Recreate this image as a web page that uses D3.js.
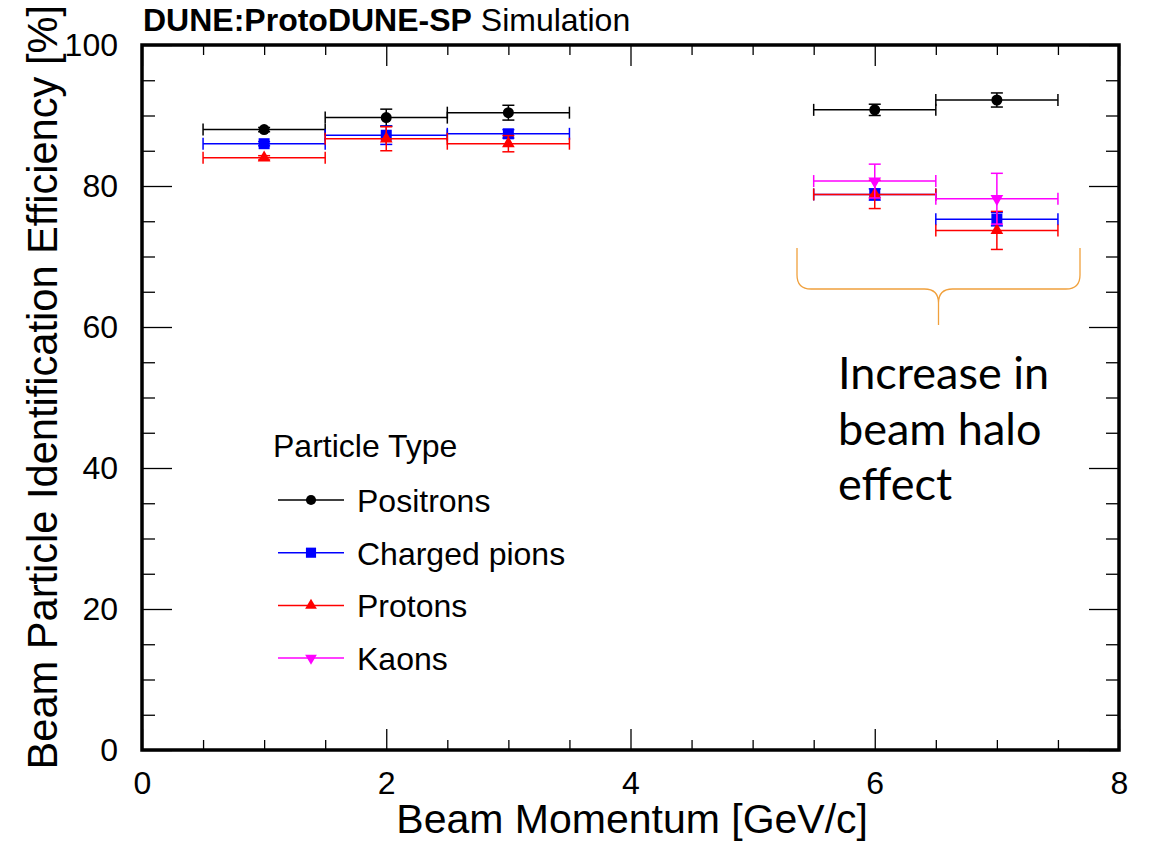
<!DOCTYPE html>
<html>
<head>
<meta charset="utf-8">
<script src="https://cdn.jsdelivr.net/npm/d3@7"></script>
<style>
  html, body { margin: 0; padding: 0; background: #fff; }
  svg { display: block; }
  text { font-family: "Liberation Sans", Arial, sans-serif; fill: #000; }
</style>
</head>
<body>
<svg id="chart" width="1156" height="842"></svg>
<script>
// Beam momentum points [GeV/c] and half bin width
const momenta = [1, 2, 3, 6, 7];
const kaonMomenta = [6, 7];
const binHalfWidth = 0.5;

// Identification efficiency [%] and statistical uncertainty per particle type
const positronEff = [88.0, 89.7, 90.4, 90.8, 92.2];
const positronErr = [0.3, 1.2, 1.05, 0.8, 1.0];
const pionEff = [86.0, 87.2, 87.4, 78.8, 75.3];
const pionErr = [0.3, 1.3, 0.6, 0.8, 0.95];
const protonEff = [84.0, 86.7, 86.0, 78.8, 73.7];
const protonErr = [0.3, 1.7, 1.15, 2.0, 2.7];
const kaonEff = [80.7, 78.2];
const kaonErr = [2.4, 3.6];

// Axis ticks
const xTicks = [0, 2, 4, 6, 8];
const xMinorTicks = [0.5, 1, 1.5, 2.5, 3, 3.5, 4.5, 5, 5.5, 6.5, 7, 7.5];
const yTicks = [0, 20, 40, 60, 80, 100];
const yMinorTicks = [5, 10, 15, 25, 30, 35, 45, 50, 55, 65, 70, 75, 85, 90, 95];

const legendTitle = "Particle Type";
const annotationLines = ["Increase in", "beam halo", "effect"];

const series = [
  { name: "Positrons", color: "#000000", symbol: d3.symbolCircle, size: 95, rot: 0, x: momenta, y: positronEff, e: positronErr },
  { name: "Charged pions", color: "#0000ff", symbol: d3.symbolSquare, size: 121, rot: 0, x: momenta, y: pionEff, e: pionErr },
  { name: "Protons", color: "#ff0000", symbol: d3.symbolTriangle, size: 70, rot: 0, x: momenta, y: protonEff, e: protonErr },
  { name: "Kaons", color: "#ff00ff", symbol: d3.symbolTriangle, size: 70, rot: 180, x: kaonMomenta, y: kaonEff, e: kaonErr }
];

const svg = d3.select("#chart");
const plotL = 142, plotR = 1119, plotT = 45, plotB = 750;
const x = d3.scaleLinear().domain([0, 8]).range([plotL, plotR]);
const y = d3.scaleLinear().domain([0, 100]).range([plotB, plotT]);

// ---- axes (ticks on all four sides, pointing inward) ----
function styleAxis(g) {
  g.select(".domain").remove();
  g.selectAll("line").attr("stroke", "#000").attr("stroke-width", 1.3);
  g.selectAll("text").style("font-size", "32px").attr("font-family", "Liberation Sans, Arial, sans-serif");
}
svg.append("g").attr("transform", `translate(0,${plotB})`)
  .call(d3.axisBottom(x).tickValues(xTicks).tickSize(-21).tickPadding(21).tickFormat(d3.format("d")))
  .call(styleAxis);
svg.append("g").attr("transform", `translate(0,${plotB})`)
  .call(d3.axisBottom(x).tickValues(xMinorTicks).tickSize(-10).tickFormat(""))
  .call(styleAxis);
svg.append("g").attr("transform", `translate(0,${plotT})`)
  .call(d3.axisTop(x).tickValues(xTicks).tickSize(-21).tickFormat(""))
  .call(styleAxis);
svg.append("g").attr("transform", `translate(0,${plotT})`)
  .call(d3.axisTop(x).tickValues(xMinorTicks).tickSize(-10).tickFormat(""))
  .call(styleAxis);
svg.append("g").attr("transform", `translate(${plotL},0)`)
  .call(d3.axisLeft(y).tickValues(yTicks).tickSize(-30).tickPadding(24).tickFormat(d3.format("d")))
  .call(styleAxis);
svg.append("g").attr("transform", `translate(${plotL},0)`)
  .call(d3.axisLeft(y).tickValues(yMinorTicks).tickSize(-13).tickFormat(""))
  .call(styleAxis);
svg.append("g").attr("transform", `translate(${plotR},0)`)
  .call(d3.axisRight(y).tickValues(yTicks).tickSize(-30).tickFormat(""))
  .call(styleAxis);
svg.append("g").attr("transform", `translate(${plotR},0)`)
  .call(d3.axisRight(y).tickValues(yMinorTicks).tickSize(-13).tickFormat(""))
  .call(styleAxis);

// frame
svg.append("rect")
  .attr("x", plotL).attr("y", plotT)
  .attr("width", plotR - plotL).attr("height", plotB - plotT)
  .attr("fill", "none").attr("stroke", "#000").attr("stroke-width", 3.5);

// ---- data: error bars with end caps, then markers ----
const cap = 6;
const plot = svg.append("g");
series.forEach(s => {
  const pts = s.x.map((xv, i) => ({ x: xv, y: s.y[i], e: s.e[i] }));
  const g = plot.append("g").attr("stroke", s.color).attr("stroke-width", 1.5).attr("fill", "none");
  pts.forEach(p => {
    const x0 = x(p.x - binHalfWidth), x1 = x(p.x + binHalfWidth), xc = x(p.x);
    const yc = y(p.y), yl = y(p.y - p.e), yh = y(p.y + p.e);
    g.append("line").attr("x1", x0).attr("x2", x1).attr("y1", yc).attr("y2", yc);
    g.append("line").attr("x1", x0).attr("x2", x0).attr("y1", yc - cap).attr("y2", yc + cap);
    g.append("line").attr("x1", x1).attr("x2", x1).attr("y1", yc - cap).attr("y2", yc + cap);
    g.append("line").attr("x1", xc).attr("x2", xc).attr("y1", yl).attr("y2", yh);
    g.append("line").attr("x1", xc - cap).attr("x2", xc + cap).attr("y1", yl).attr("y2", yl);
    g.append("line").attr("x1", xc - cap).attr("x2", xc + cap).attr("y1", yh).attr("y2", yh);
  });
  plot.append("g").selectAll("path").data(pts).join("path")
    .attr("d", d3.symbol().type(s.symbol).size(s.size))
    .attr("transform", p => `translate(${x(p.x)},${y(p.y)}) rotate(${s.rot})`)
    .attr("fill", s.color);
});

// ---- legend ----
const legend = svg.append("g");
legend.append("text").attr("x", 273).attr("y", 457).style("font-size", "32px").text(legendTitle);
series.forEach((s, i) => {
  const ly = 500 + i * 52.7;
  legend.append("line").attr("x1", 278).attr("x2", 344).attr("y1", ly).attr("y2", ly)
    .attr("stroke", s.color).attr("stroke-width", 1.5);
  legend.append("path")
    .attr("d", d3.symbol().type(s.symbol).size(s.size * 0.85)())
    .attr("transform", `translate(311,${ly}) rotate(${s.rot})`)
    .attr("fill", s.color);
  legend.append("text").attr("x", 357).attr("y", ly + 12).style("font-size", "32px").text(s.name);
});

// ---- titles ----
const title = svg.append("text").attr("x", 143).attr("y", 31).style("font-size", "32px");
title.append("tspan").attr("font-weight", "bold").text("DUNE:ProtoDUNE-SP");
title.append("tspan").text(" Simulation");

svg.append("text")
  .attr("x", 868).attr("y", 833).attr("text-anchor", "end")
  .style("font-size", "41px").text("Beam Momentum [GeV/c]");

svg.append("text")
  .attr("transform", "translate(57,5) rotate(-90)")
  .attr("text-anchor", "end")
  .style("font-size", "41.6px").text("Beam Particle Identification Efficiency [%]");

// ---- beam halo annotation: curly brace and note ----
const bx0 = 797, bx1 = 1080, bTop = 248, bLine = 289, bTip = 325, bxm = (bx0 + bx1) / 2, br = 14;
const brace = d3.path();
brace.moveTo(bx0, bTop);
brace.lineTo(bx0, bLine - br);
brace.quadraticCurveTo(bx0, bLine, bx0 + br, bLine);
brace.lineTo(bxm - br, bLine);
brace.quadraticCurveTo(bxm, bLine, bxm, bLine + br);
brace.lineTo(bxm, bTip);
brace.moveTo(bxm, bLine + br);
brace.quadraticCurveTo(bxm, bLine, bxm + br, bLine);
brace.lineTo(bx1 - br, bLine);
brace.quadraticCurveTo(bx1, bLine, bx1, bLine - br);
brace.lineTo(bx1, bTop);
svg.append("path").attr("d", brace.toString())
  .attr("fill", "none").attr("stroke", "#f0a03c").attr("stroke-width", 1.3);

const note = svg.append("g");
annotationLines.forEach((t, i) => {
  note.append("text").attr("x", 838).attr("y", 389 + i * 55.5)
    .style("font-family", "Lato, 'Open Sans', sans-serif").style("font-size", "45px").text(t);
});
</script>
</body>
</html>
